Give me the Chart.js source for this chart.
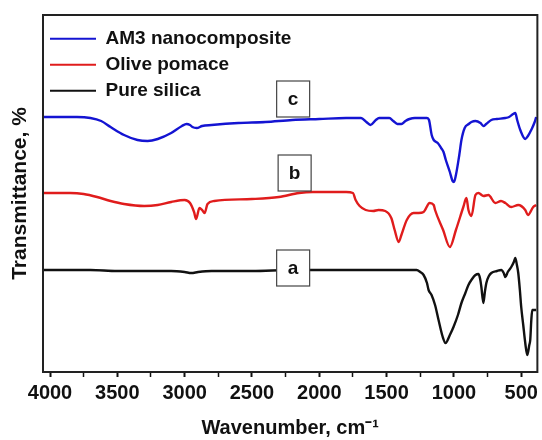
<!DOCTYPE html>
<html>
<head>
<meta charset="utf-8">
<script src="https://cdn.jsdelivr.net/npm/chart.js@4.4.0/dist/chart.umd.min.js"></script>
<style>
  html, body { margin: 0; padding: 0; background: #fff; }
</style>
</head>
<body>
<canvas id="myChart" width="542" height="440"></canvas>
<script>
// FTIR spectra (wavenumber in cm-1, transmittance in arbitrary offset units)
const am3Wn = [4050, 3950, 3800, 3700, 3620, 3550, 3450, 3350, 3275, 3200, 3100, 3020, 2986, 2960, 2942, 2910, 2870, 2800, 2600, 2400, 2200, 2000, 1800, 1690, 1650, 1620, 1580, 1555, 1480, 1450, 1420, 1390, 1360, 1330, 1290, 1200, 1185, 1165, 1150, 1120, 1095, 1077, 1060, 1030, 1010, 1000, 985, 960, 944, 920, 890, 870, 840, 803, 781, 760, 722, 680, 618, 590, 560, 544, 530, 507, 470, 450, 426, 400, 389];
const am3T = [255, 255, 255, 254, 251, 245, 237, 232, 231, 233, 239, 246, 248, 247, 245, 244, 246, 247, 249, 250, 252, 253, 254, 254, 250, 247, 252, 254, 254, 251, 248, 248, 251, 253, 254, 254, 252, 237, 232, 229, 224, 220, 212, 200, 191, 190, 197, 217, 232, 244, 248, 250, 251, 249, 246, 248, 252, 253, 254, 255, 258, 259, 252, 242, 233, 236, 242, 250, 255];

const oliveWn = [4050, 3950, 3850, 3750, 3650, 3550, 3450, 3300, 3200, 3100, 3000, 2960, 2930, 2915, 2890, 2870, 2852, 2830, 2780, 2500, 2300, 2150, 2050, 1800, 1750, 1730, 1700, 1655, 1600, 1560, 1510, 1465, 1440, 1410, 1390, 1350, 1300, 1262, 1225, 1180, 1150, 1140, 1080, 1030, 985, 930, 907, 892, 870, 840, 818, 780, 744, 692, 650, 618, 574, 522, 470, 450, 411, 389];
const oliveT = [179, 179, 179, 178, 175, 171, 168, 166, 167, 170, 172, 169, 160, 153, 164, 162, 159, 168, 171, 173, 175, 179, 180, 180, 179, 172, 166, 162, 161, 162, 161, 154, 142, 130, 137, 152, 159, 159, 160, 169, 167, 162, 142, 125, 142, 165, 174, 162, 156, 177, 179, 176, 177, 169, 171, 169, 165, 167, 162, 157, 165, 167];

const silicaWn = [4050, 3900, 3700, 3500, 3300, 3100, 3000, 2950, 2900, 2800, 2500, 2200, 2000, 1800, 1500, 1300, 1277, 1250, 1225, 1200, 1188, 1166, 1140, 1114, 1085, 1062, 1030, 1003, 970, 944, 915, 892, 865, 840, 818, 805, 796, 781, 770, 759, 740, 722, 680, 648, 630, 618, 600, 574, 555, 544, 532, 522, 510, 500, 485, 470, 455, 440, 433, 425, 418, 404, 389];
const silicaT = [102, 102, 102, 101, 101, 101, 100, 99, 100, 101, 101, 102, 102, 102, 102, 102, 102, 100, 97, 89, 82, 77, 67, 52, 36, 29, 37, 45, 57, 69, 79, 87, 93, 97, 98, 93, 85, 69, 80, 89, 96, 99, 101, 102, 99, 95, 100, 105, 110, 114, 107, 99, 82, 65, 47, 29, 17, 27, 32, 52, 62, 62, 62];

const seriesNames = ['AM3 nanocomposite', 'Olive pomace', 'Pure silica'];
const seriesColors = ['#1414d2', '#e01c1c', '#111111'];

// boxed curve labels
const curveLabels = ['c', 'b', 'a'];
const curveLabelWn = [2194, 2183, 2194];
const curveLabelT = [273, 199, 104];

function toPoints(wn, t) {
  return wn.map((w, i) => ({ x: w, y: t[i] }));
}

Chart.defaults.font.family = "'Liberation Sans', Arial, sans-serif";
Chart.defaults.color = '#111';

const framePlugin = {
  id: 'frame',
  afterDraw(chart) {
    const { ctx, chartArea: a } = chart;
    ctx.save();
    ctx.strokeStyle = '#222';
    ctx.lineWidth = 2;
    ctx.strokeRect(a.left, a.top, a.right - a.left, a.bottom - a.top);
    ctx.restore();
  }
};

const boxLabelPlugin = {
  id: 'boxLabels',
  afterDatasetsDraw(chart) {
    const { ctx } = chart;
    const xs = chart.scales.x, ys = chart.scales.y;
    ctx.save();
    curveLabels.forEach((txt, i) => {
      const cx = xs.getPixelForValue(curveLabelWn[i]);
      const cy = ys.getPixelForValue(curveLabelT[i]);
      const w = 33, h = 36;
      ctx.fillStyle = '#fff';
      ctx.fillRect(cx - w / 2, cy - h / 2, w, h);
      ctx.strokeStyle = '#444';
      ctx.lineWidth = 1.2;
      ctx.strokeRect(cx - w / 2, cy - h / 2, w, h);
      ctx.fillStyle = '#111';
      ctx.font = "bold 19px 'Liberation Sans', Arial, sans-serif";
      ctx.textAlign = 'center';
      ctx.textBaseline = 'middle';
      ctx.fillText(txt, cx, cy + 1);
    });
    ctx.restore();
  }
};

const ctx = document.getElementById('myChart');
new Chart(ctx, {
  type: 'line',
  data: {
    datasets: [
      { label: seriesNames[0], data: toPoints(am3Wn, am3T), borderColor: seriesColors[0], backgroundColor: seriesColors[0], borderWidth: 2.4 },
      { label: seriesNames[1], data: toPoints(oliveWn, oliveT), borderColor: seriesColors[1], backgroundColor: seriesColors[1], borderWidth: 2.4 },
      { label: seriesNames[2], data: toPoints(silicaWn, silicaT), borderColor: seriesColors[2], backgroundColor: seriesColors[2], borderWidth: 2.4 }
    ]
  },
  options: {
    responsive: false,
    animation: false,
    layout: { padding: { top: 15, right: 3, left: 0, bottom: 0 } },
    elements: {
      point: { radius: 0 },
      line: { tension: 0.4, cubicInterpolationMode: 'monotone' }
    },
    plugins: {
      tooltip: { enabled: false },
      legend: {
        position: 'chartArea',
        align: 'start',
        title: { display: true, text: '', font: { size: 1 }, padding: { top: 21, bottom: 0 } },
        labels: {
          usePointStyle: true,
          pointStyle: 'line',
          pointStyleWidth: 46,
          padding: 7,
          color: '#111',
          font: { size: 19, weight: 'bold' },
          generateLabels: chart => Chart.defaults.plugins.legend.labels.generateLabels(chart)
            .map(item => Object.assign(item, { lineWidth: 2 }))
        }
      }
    },
    scales: {
      x: {
        type: 'linear',
        reverse: true,
        min: 380,
        max: 4052,
        ticks: {
          stepSize: 250,
          includeBounds: false,
          autoSkip: false,
          maxRotation: 0,
          padding: 4,
          color: '#111',
          font: { size: 20, weight: 'bold' },
          callback: v => (v % 500 === 0 ? String(v) : '')
        },
        grid: {
          display: true,
          drawOnChartArea: false,
          drawTicks: true,
          tickLength: 5,
          tickColor: '#111',
          tickWidth: c => (c.tick && c.tick.value % 500 === 0 ? 2 : 1.5)
        },
        border: { display: false },
        title: {
          display: true,
          text: 'Wavenumber, cm⁻¹',
          color: '#111',
          font: { size: 20, weight: 'bold' },
          padding: { top: 0, bottom: 0 }
        },
        afterFit: s => { s.height = 68; }
      },
      y: {
        min: 0,
        max: 357,
        ticks: { display: false },
        grid: { display: false },
        border: { display: false },
        title: {
          display: true,
          text: 'Transmittance, %',
          color: '#111',
          font: { size: 21, weight: 'bold' },
          padding: { top: 8, bottom: 0 }
        },
        afterFit: s => { s.width = 43; }
      }
    }
  },
  plugins: [framePlugin, boxLabelPlugin]
});
</script>
</body>
</html>
